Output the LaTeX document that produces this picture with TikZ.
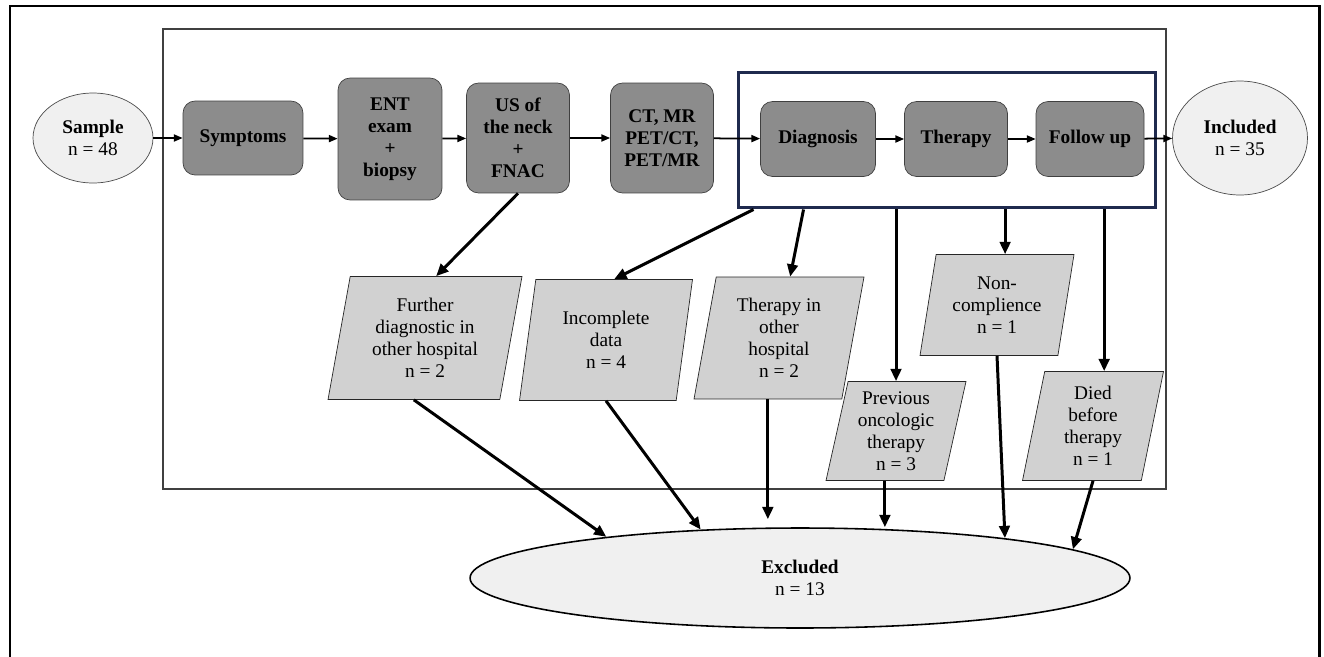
\documentclass[tikz,border=0pt]{standalone}
\usepackage{fontspec}
\setmainfont{Liberation Serif}
\usetikzlibrary{arrows.meta,shapes.geometric}

\definecolor{framenavy}{HTML}{1F2A4E}

\begin{document}
\begin{tikzpicture}[x=0.02cm,y=-0.02cm,
  every node/.style={font=\fontsize{11}{12.5}\selectfont,align=center},
  stage/.style={draw=black!75,fill=black!45,rounded corners=0.24cm,
    font=\fontsize{11}{12.5}\selectfont\bfseries,inner sep=1pt},
  pool/.style={ellipse,draw=black!70,fill=black!6,inner sep=0pt},
  loss/.style={trapezium,trapezium left angle=75,trapezium right angle=105,
    trapezium stretches body,draw=black!85,fill=black!18,inner sep=1pt},
  flow/.style={-{Triangle[length=5pt,width=4pt]},line width=1pt},
  drop/.style={-{Triangle[length=7pt,width=6pt]},line width=1.7pt}]

\useasboundingbox (0,0) rectangle (1324,656);

% frames
\draw[line width=1.7pt] (10,670) -- (10,6) -- (1319,6) -- (1319,670);
\draw[line width=1.1pt,black!75] (163,29) rectangle (1166,489);
\node[draw=framenavy,line width=1.7pt,minimum width=8.36cm,minimum height=2.72cm,inner sep=0pt] (care) at (947,140) {};

% main path
\node[pool,minimum width=2.4cm,minimum height=1.8cm] (sample) at (93,138) {\textbf{Sample}\\n = 48};
\node[stage,minimum width=2.4cm,minimum height=1.48cm] (sympt) at (243,138) {Symptoms};
\node[stage,minimum width=2.08cm,minimum height=2.44cm] (ent) at (390,139) {ENT\\exam\\+\\biopsy};
\node[stage,minimum width=2.06cm,minimum height=2.2cm] (us) at (518,138) {US of\\the neck\\+\\FNAC};
\node[stage,minimum width=2.06cm,minimum height=2.2cm] (ct) at (662,138) {CT, MR\\PET/CT,\\PET/MR};
\node[stage,minimum width=2.3cm,minimum height=1.5cm] (diag) at (818,139) {Diagnosis};
\node[stage,minimum width=2.06cm,minimum height=1.5cm] (ther) at (956,139) {Therapy};
\node[stage,minimum width=2.16cm,minimum height=1.5cm] (follow) at (1090,139) {Follow up};
\node[pool,minimum width=2.7cm,minimum height=2.28cm] (incl) at (1240,138) {\textbf{Included}\\n = 35};

% drop-outs
\node[loss,minimum width=3.88cm,minimum height=2.46cm] (further) at (425,338) {Further\\diagnostic in\\other hospital\\n = 2};
\node[loss,minimum width=3.46cm,minimum height=2.42cm] (incompl) at (606,340) {Incomplete\\data\\n = 4};
\node[loss,minimum width=3.4cm,minimum height=2.44cm] (elsewhere) at (779,338) {Therapy in\\other\\hospital\\n = 2};
\node[loss,minimum width=3.08cm,minimum height=2.02cm] (noncomp) at (997,305) {Non-\\complience\\n = 1};
\node[loss,minimum width=2.8cm,minimum height=1.98cm] (previous) at (896,431) {Previous\\oncologic\\therapy\\n = 3};
\node[loss,minimum width=2.82cm,minimum height=2.18cm] (died) at (1093,426) {Died\\before\\therapy\\n = 1};

\node[pool,draw=black,line width=0.9pt,minimum width=13.2cm,minimum height=2cm] (excl) at (800,578) {\textbf{Excluded}\\n = 13};

\draw[flow] (sample) -- (sympt);
\draw[flow] (sympt) -- (ent);
\draw[flow] (ent) -- (us);
\draw[flow] (us) -- (ct);
\draw[flow] (ct) -- (diag);
\draw[flow] (diag) -- (ther);
\draw[flow] (ther) -- (follow);
\draw[flow] (follow) -- (incl);

\draw[drop] (us.south) -- (further.top side);
\draw[drop] ([xshift=0.34cm]care.south west) -- (incompl.top side);
\draw[drop] ([xshift=1.34cm]care.south west) -- (elsewhere.top side);
\draw[drop] (care.south -| previous.north) -- (previous.north);
\draw[drop] (care.south -| noncomp.top side) -- (noncomp.top side);
\draw[drop] (care.south -| died.top side) -- (died.top side);

\draw[drop] (further.bottom side) -- (excl.168.5);
\draw[drop] (incompl.south) -- (excl.154);
\draw[drop] (elsewhere.bottom side) -- ([yshift=0.16cm]elsewhere.bottom side |- excl.north);
\draw[drop] (previous.bottom side) -- (previous.bottom side |- excl.north);
\draw[drop] (noncomp.south) -- (excl.11.5);
\draw[drop] (died.south) -- (excl.6.6);

\end{tikzpicture}
\end{document}
